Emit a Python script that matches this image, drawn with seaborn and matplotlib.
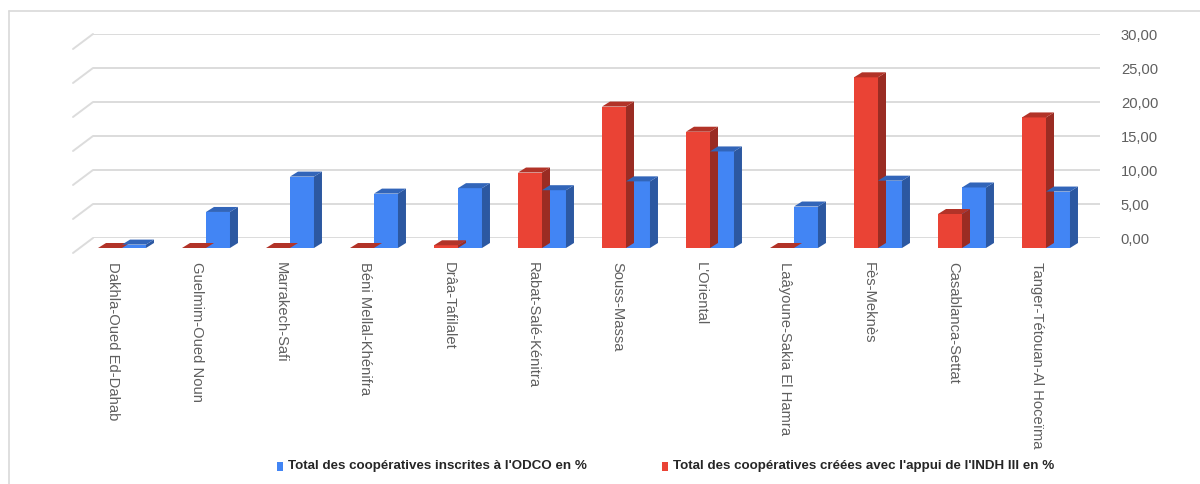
import numpy as np
import pandas as pd
import matplotlib
matplotlib.use("Agg")
import matplotlib.pyplot as plt
import matplotlib.transforms as mtransforms
from matplotlib.patches import Polygon, Rectangle
from matplotlib.lines import Line2D
from matplotlib.ticker import FuncFormatter
import seaborn as sns

# ---- data -------------------------------------------------------------
regions = [
    "Dakhla-Oued Ed-Dahab", "Guelmim-Oued Noun", "Marrakech-Safi",
    "Béni Mellal-Khénifra", "Drâa-Tafilalet", "Rabat-Salé-Kénitra",
    "Souss-Massa", "L'Oriental", "Laâyoune-Sakia El Hamra", "Fès-Meknès",
    "Casablanca-Settat", "Tanger-Tétouan-Al Hoceïma",
]
indh_pct = [0.0, 0.0, 0.0, 0.0, 0.4, 11.1, 20.8, 17.1, 0.0, 25.1, 5.0, 19.2]
odco_pct = [0.5, 5.3, 10.5, 8.0, 8.8, 8.5, 9.8, 14.2, 6.1, 9.9, 8.9, 8.3]

label_odco = "Total des coopératives inscrites à l'ODCO en %"
label_indh = "Total des coopératives créées avec l'appui de l'INDH III en %"
y_ticks = [0, 5, 10, 15, 20, 25, 30]

colors = {label_indh: "#EA4335", label_odco: "#4285F4"}

df = pd.DataFrame({
    "region": regions * 2,
    "serie": [label_indh] * len(regions) + [label_odco] * len(regions),
    "valeur": indh_pct + odco_pct,
})

# ---- figure -----------------------------------------------------------
sns.set_theme(style="white")
plt.rcParams["font.family"] = ["Liberation Sans", "DejaVu Sans"]

W, H, DPI = 1200, 484, 100
fig = plt.figure(figsize=(W / DPI, H / DPI), dpi=DPI)
ax_l, ax_r, ax_t, ax_b = 93, 1100, 34, 238
ax = fig.add_axes([ax_l / W, 1 - ax_b / H, (ax_r - ax_l) / W, (ax_b - ax_t) / H])

sns.barplot(data=df, x="region", y="valeur", hue="serie",
            hue_order=[label_indh, label_odco], palette=colors,
            width=0.571, dodge=True, legend=False, ax=ax,
            saturation=1, linewidth=0, errorbar=None)

px_per_cat = 84.0
ax.set_xlim(-(122 - ax_l) / px_per_cat, (ax_r - 122) / px_per_cat)
ax.set_ylim(0, 30)
px_per_unit = (ax_b - ax_t) / 30.0

# pseudo-3D: front faces sit 10 px in front of (below) the back wall
front = ax.transData + mtransforms.ScaledTranslation(0, -10 / DPI, fig.dpi_scale_trans)
ddx = 8 / px_per_cat      # bar depth, horizontal (data units)
ddy = 5 / px_per_unit     # bar depth, vertical (data units)


def shade(c, f):
    r, g, b = matplotlib.colors.to_rgb(c)
    return (r * f, g * f, b * f)


bars = [p for p in ax.patches if isinstance(p, Rectangle)]
for p in bars:
    x0, w, h = p.get_x(), p.get_width(), p.get_height()
    fc = p.get_facecolor()
    p.set_transform(front)
    p.set_clip_on(False)
    side = Polygon([(x0 + w, 0), (x0 + w + ddx, ddy), (x0 + w + ddx, h + ddy), (x0 + w, h)],
                   closed=True, facecolor=shade(fc, 0.66), edgecolor="none",
                   transform=front, clip_on=False, zorder=p.get_zorder())
    top = Polygon([(x0, h), (x0 + ddx, h + ddy), (x0 + w + ddx, h + ddy), (x0 + w, h)],
                  closed=True, facecolor=shade(fc, 0.76), edgecolor="none",
                  transform=front, clip_on=False, zorder=p.get_zorder())
    ax.add_patch(side)
    ax.add_patch(top)

# back wall grid with the left floor edges
ax.set_yticks(y_ticks)
ax.grid(axis="y", color="#dcdcdc", linewidth=1.4)
ax.grid(axis="x", visible=False)
ax.set_axisbelow(True)
diag = mtransforms.ScaledTranslation(-20 / DPI, -15 / DPI, fig.dpi_scale_trans)
x_left = ax.get_xlim()[0]
for v in y_ticks:
    p0 = ax.transData.transform((x_left, v))
    p1 = (ax.transData + diag).transform((x_left, v))
    ax.add_line(Line2D([p0[0], p1[0]], [p0[1], p1[1]], color="#dcdcdc",
                       linewidth=1.4, transform=None, clip_on=False, zorder=0))

for s in ax.spines.values():
    s.set_visible(False)

ax.yaxis.tick_right()
ax.yaxis.set_major_formatter(FuncFormatter(lambda v, _: f"{v:.2f}".replace(".", ",")))
ax.tick_params(axis="y", length=0, pad=15, labelsize=10.6, labelcolor="#5f5f5f")
ax.set_xlabel("")
ax.set_ylabel("")

ax.set_xticks(range(len(regions)))
ax.set_xticklabels(regions, rotation=270, ha="center", va="top")
ax.tick_params(axis="x", length=0, pad=17.3, labelsize=10.6, labelcolor="#5f5f5f")
shift = mtransforms.ScaledTranslation(-9 / DPI, 0, fig.dpi_scale_trans)
for lab in ax.get_xticklabels():
    lab.set_transform(lab.get_transform() + shift)

# legend along the bottom
leg_y = 1 - 466 / H
for x_sq, lab, col in [(277, label_odco, colors[label_odco]),
                       (662, label_indh, colors[label_indh])]:
    fig.add_artist(Rectangle((x_sq / W, leg_y - 4.5 / H), 6 / W, 9 / H,
                             transform=fig.transFigure, facecolor=col,
                             edgecolor="none"))
    fig.text((x_sq + 11) / W, leg_y, lab, va="center", ha="left",
             fontsize=9.6, fontweight="bold", color="#262626")

# outer frame (top and left edges)
fig.add_artist(Line2D([9 / W, 1], [1 - 11 / H, 1 - 11 / H], color="#d9d9d9",
                      linewidth=1.2, transform=fig.transFigure))
fig.add_artist(Line2D([9 / W, 9 / W], [0, 1 - 11 / H], color="#d9d9d9",
                      linewidth=1.2, transform=fig.transFigure))

fig.savefig("out.png", dpi=DPI, facecolor="white")
